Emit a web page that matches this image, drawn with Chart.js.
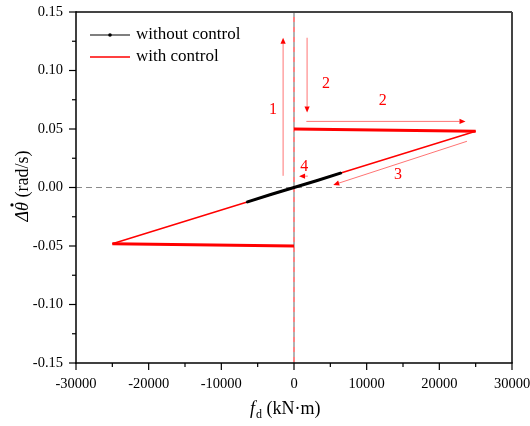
<!DOCTYPE html>
<html>
<head>
<meta charset="utf-8">
<script src="https://cdn.jsdelivr.net/npm/chart.js@4.4.1/dist/chart.umd.min.js"></script>
<style>
  body { margin: 0; background: #fff; }
</style>
</head>
<body>
<canvas id="c" width="530" height="426"></canvas>
<script>
// data
var noCtrlX = [-6500, -3200, 0, 3200, 6500];
var noCtrlY = [-0.0125, -0.006, 0, 0.006, 0.0125];
var ctrlX = [0, 25000, 0, -25000, 0];
var ctrlY = [0.05, 0.048, 0, -0.048, -0.05];
var ctrlWidth = [3, 1.5, 1.5, 3];   // line width of each segment

var xTickVals = [-30000, -20000, -10000, 0, 10000, 20000, 30000];
var yTickVals = [-0.15, -0.10, -0.05, 0, 0.05, 0.10, 0.15];

// annotation arrows (data coords): from -> to
var arrows = [
    { x1: -1500, y1: 0.010, x2: -1500, y2: 0.128 },
    { x1: 1800, y1: 0.128, x2: 1800, y2: 0.064 },
    { x1: 1700, y1: 0.0565, x2: 23600, y2: 0.0565 },
    { x1: 23800, y1: 0.0395, x2: 5400, y2: 0.0022 },
    { x1: 1900, y1: 0.0097, x2: 700, y2: 0.0097 }
];
var arrowLabels = [
    { text: "1", x: -2900, y: 0.066 },
    { text: "2", x: 4400, y: 0.089 },
    { text: "2", x: 12200, y: 0.074 },
    { text: "3", x: 14300, y: 0.011 },
    { text: "4", x: 1400, y: 0.0175 }
];

function pts(xs, ys) {
    var out = [];
    for (let i = 0; i < xs.length; i++) out.push({ x: xs[i], y: ys[i] });
    return out;
}

function seg(ctx, x1, y1, x2, y2) {
    ctx.beginPath(); ctx.moveTo(x1, y1); ctx.lineTo(x2, y2); ctx.stroke();
}

var serif = "'Liberation Serif', 'DejaVu Serif', serif";

function noPad(s) {
    s.paddingTop = 0; s.paddingBottom = 0; s.paddingLeft = 0; s.paddingRight = 0;
}

var deco = {
    id: 'deco',
    beforeDatasetsDraw: function (chart) {
        var ctx = chart.ctx, a = chart.chartArea, x = chart.scales.x, y = chart.scales.y;
        var x0 = x.getPixelForValue(0), y0 = y.getPixelForValue(0);
        ctx.save();
        ctx.lineWidth = 1.2;
        ctx.setLineDash([6, 4]);
        ctx.strokeStyle = '#8c8c8c';
        seg(ctx, a.left, y0, a.right, y0);
        // vertical: red and gray dashes alternating
        ctx.lineWidth = 1.5;
        ctx.strokeStyle = '#ff5a5a';
        ctx.setLineDash([5, 5]);
        ctx.lineDashOffset = 5;
        seg(ctx, x0, a.top, x0, a.bottom);
        ctx.strokeStyle = '#999';
        ctx.lineDashOffset = 0;
        seg(ctx, x0, a.top, x0, a.bottom);
        ctx.restore();
    },
    afterDatasetsDraw: function (chart) {
        var ctx = chart.ctx, x = chart.scales.x, y = chart.scales.y;
        ctx.save();
        ctx.strokeStyle = 'rgba(255,0,0,0.55)';
        ctx.fillStyle = '#ff0000';
        ctx.lineWidth = 1;
        arrows.forEach(function (ar) {
            var px1 = x.getPixelForValue(ar.x1), py1 = y.getPixelForValue(ar.y1);
            var px2 = x.getPixelForValue(ar.x2), py2 = y.getPixelForValue(ar.y2);
            var ang = Math.atan2(py2 - py1, px2 - px1);
            var L = 6, W = 2.6;
            var bx = px2 - L * Math.cos(ang), by = py2 - L * Math.sin(ang);
            seg(ctx, px1, py1, bx, by);
            ctx.beginPath();
            ctx.moveTo(px2, py2);
            ctx.lineTo(bx + W * Math.sin(ang), by - W * Math.cos(ang));
            ctx.lineTo(bx - W * Math.sin(ang), by + W * Math.cos(ang));
            ctx.closePath();
            ctx.fill();
        });
        ctx.font = '16px ' + serif;
        ctx.textAlign = 'center';
        ctx.textBaseline = 'middle';
        arrowLabels.forEach(function (l) {
            ctx.fillText(l.text, x.getPixelForValue(l.x), y.getPixelForValue(l.y));
        });
        ctx.restore();
    },
    afterDraw: function (chart) {
        var ctx = chart.ctx, a = chart.chartArea, x = chart.scales.x, y = chart.scales.y;
        ctx.save();
        // frame
        ctx.strokeStyle = '#444';
        ctx.lineWidth = 2;
        seg(ctx, a.left, a.top, a.right, a.top);
        seg(ctx, a.right, a.top, a.right, a.bottom);
        ctx.strokeStyle = '#000';
        ctx.lineWidth = 1.5;
        seg(ctx, a.left, a.top - 0.7, a.left, a.bottom + 0.7);
        seg(ctx, a.left - 0.7, a.bottom, a.right + 0.7, a.bottom);
        // ticks
        ctx.lineWidth = 1.2;
        for (let i = 0; i < yTickVals.length; i++) {
            var py = y.getPixelForValue(yTickVals[i]);
            seg(ctx, a.left - 7, py, a.left, py);
            if (i < yTickVals.length - 1) {
                var pm = (py + y.getPixelForValue(yTickVals[i + 1])) / 2;
                seg(ctx, a.left - 4, pm, a.left, pm);
            }
        }
        for (let i = 0; i < xTickVals.length; i++) {
            var px = x.getPixelForValue(xTickVals[i]);
            seg(ctx, px, a.bottom, px, a.bottom + 7);
            if (i < xTickVals.length - 1) {
                var qm = (px + x.getPixelForValue(xTickVals[i + 1])) / 2;
                seg(ctx, qm, a.bottom, qm, a.bottom + 4);
            }
        }
        // x title: f_d (kN·m)
        ctx.fillStyle = '#000';
        ctx.textBaseline = 'alphabetic';
        ctx.textAlign = 'left';
        var tx = 250, ty = 414;
        ctx.font = 'italic 18px ' + serif;
        ctx.fillText('f', tx, ty);
        tx += ctx.measureText('f').width + 1;
        ctx.font = '12px ' + serif;
        ctx.fillText('d', tx, ty + 4);
        tx += ctx.measureText('d').width;
        ctx.font = '18px ' + serif;
        ctx.fillText(' (kN\u00b7m)', tx, ty);
        // y title: Δθ̇ (rad/s)
        ctx.translate(28, 186);
        ctx.rotate(-Math.PI / 2);
        var parts = [
            { t: '\u0394', f: 'italic 18px ' + serif },
            { t: '\u03b8', f: 'italic 18px ' + serif },
            { t: ' (rad/s)', f: '18px ' + serif }
        ];
        var total = 0;
        parts.forEach(function (p) { ctx.font = p.f; total += ctx.measureText(p.t).width; });
        var cx = -total / 2;
        parts.forEach(function (p, i) {
            ctx.font = p.f;
            ctx.fillText(p.t, cx, 0);
            var w = ctx.measureText(p.t).width;
            if (i === 1) {
                ctx.beginPath();
                ctx.arc(cx + w / 2 + 1.5, -16, 1.6, 0, Math.PI * 2);
                ctx.fill();
            }
            cx += w;
        });
        ctx.restore();

        // legend
        ctx.save();
        ctx.lineWidth = 1.5;
        ctx.strokeStyle = '#555';
        seg(ctx, 90, 35, 130, 35);
        ctx.fillStyle = '#000';
        ctx.beginPath(); ctx.arc(110, 35, 1.8, 0, Math.PI * 2); ctx.fill();
        ctx.strokeStyle = '#ff0000';
        seg(ctx, 90, 57, 130, 57);
        ctx.font = '17px ' + serif;
        ctx.textBaseline = 'middle';
        ctx.fillText('without control', 136, 35);
        ctx.fillText('with control', 136, 57);
        ctx.restore();
    }
};

new Chart(document.getElementById('c'), {
    type: 'scatter',
    data: {
        datasets: [{
            label: 'with control',
            data: pts(ctrlX, ctrlY),
            showLine: true,
            borderColor: '#ff0000',
            backgroundColor: '#ff0000',
            pointRadius: 0,
            borderWidth: 1.5,
            segment: {
                borderWidth: function (c) { return ctrlWidth[c.p0DataIndex]; }
            },
            order: 2
        }, {
            label: 'without control',
            data: pts(noCtrlX, noCtrlY),
            showLine: true,
            borderColor: '#000',
            backgroundColor: '#000',
            borderWidth: 3,
            pointRadius: 1,
            pointBorderWidth: 0,
            order: 1
        }]
    },
    options: {
        responsive: false,
        animation: false,
        layout: { padding: { top: 12, right: 18, left: 0, bottom: 0 } },
        plugins: { legend: { display: false }, tooltip: { enabled: false } },
        scales: {
            x: {
                type: 'linear', min: -30000, max: 30000,
                grid: { display: false, drawTicks: false },
                border: { display: false },
                ticks: {
                    stepSize: 10000, padding: 12, color: '#000',
                    font: { family: serif, size: 14.5 },
                    maxRotation: 0,
                    callback: function (v) { return String(v); }
                },
                afterFit: function (s) { s.height = 63; noPad(s); }
            },
            y: {
                min: -0.15, max: 0.15,
                grid: { display: false, drawTicks: false },
                border: { display: false },
                ticks: {
                    stepSize: 0.05, padding: 13, color: '#000',
                    font: { family: serif, size: 14.5 },
                    callback: function (v) { return (Math.abs(v) < 1e-9 ? 0 : v).toFixed(2); }
                },
                afterFit: function (s) { s.width = 76; noPad(s); }
            }
        }
    },
    plugins: [deco]
});
</script>
</body>
</html>
